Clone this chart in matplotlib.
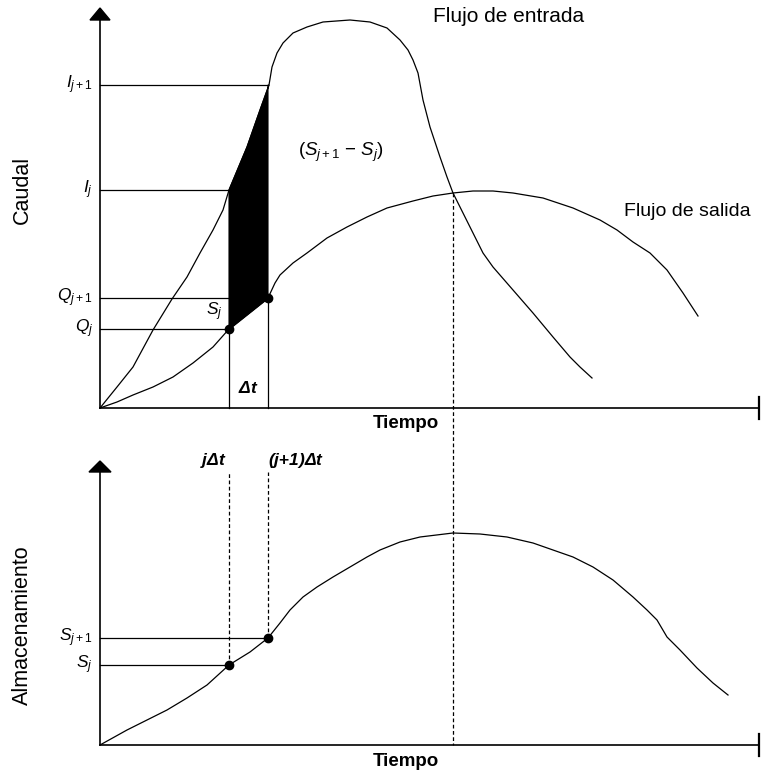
import matplotlib
matplotlib.use("Agg")
import matplotlib.pyplot as plt

plt.rcParams['font.family'] = ['Liberation Sans', 'DejaVu Sans']
plt.rcParams['mathtext.fontset'] = 'custom'
plt.rcParams['mathtext.rm'] = 'Liberation Sans'
plt.rcParams['mathtext.it'] = 'Liberation Sans:italic'
plt.rcParams['mathtext.bf'] = 'Liberation Sans:bold'
plt.rcParams['mathtext.bfit'] = 'Liberation Sans:bold:italic'

# ---- data (schematic units, y downward) ----
inflow_x = [100, 117, 133, 153, 172, 187, 200, 213, 223, 229, 247, 260, 269, 272, 277, 283, 293,
            307, 323, 350, 370, 387, 400, 408, 413, 418, 423, 430, 440, 447, 453, 463,
            473, 483, 493, 513, 533, 553, 570, 580, 592]
inflow_y = [408, 387, 367, 330, 299, 277, 253, 230, 210, 190, 147, 110, 85, 67, 53, 43, 33,
            27, 22, 20, 22, 28, 40, 50, 60, 73, 100, 127, 157, 177, 193, 213,
            233, 253, 267, 290, 313, 337, 357, 367, 378]

outflow_x = [100, 117, 133, 153, 173, 193, 213, 229, 268, 275, 280, 293, 307, 327, 347, 367, 387,
             413, 433, 453, 473, 493, 513, 543, 573, 600, 617, 633, 650, 667, 683, 698]
outflow_y = [408, 402, 395, 387, 377, 363, 347, 329, 298, 283, 275, 263, 253, 238, 227, 217, 208,
             201, 196, 193, 191, 191, 193, 198, 208, 220, 230, 242, 253, 270, 293, 316]

storage_x = [100, 127, 147, 167, 187, 207, 229, 250, 268, 280, 290, 303, 317, 333, 350, 367, 380,
             400, 420, 453, 480, 507, 533, 553, 573, 593, 613, 633, 647, 657, 667, 680, 697, 713, 728]
storage_y = [745, 730, 720, 710, 698, 685, 665, 652, 638, 623, 610, 597, 587, 577, 567, 557, 550,
             542, 537, 533, 534, 537, 543, 550, 557, 567, 580, 597, 610, 620, 637, 650, 668, 683, 695]

# time steps and levels
t_j, t_j1 = 229, 268
t_cross = 453
I_j, I_j1 = 190, 85
Q_j, Q_j1 = 329, 298
S_j, S_j1 = 665, 638

# axes frames
x0, x_end = 100, 759
top_origin, top_axis_top = 408, 20
bot_origin, bot_axis_top = 745, 472

fig = plt.figure(figsize=(7.61, 7.74), dpi=100)
ax = fig.add_axes([0, 0, 1, 1])
ax.set_xlim(0, 761)
ax.set_ylim(774, 0)
ax.axis('off')

lw = 0.9
k = 'black'
dash = (0, (3, 2))

# ---- top panel axes ----
ax.plot([x0, x0], [top_origin, top_axis_top], color=k, lw=1.2)
ax.plot([x0, x_end], [top_origin, top_origin], color=k, lw=1.2)
ax.plot([x_end, x_end], [top_origin - 11, top_origin + 11], color=k, lw=1.6)
ax.fill([x0 - 10, x0 + 10, x0], [top_axis_top, top_axis_top, top_axis_top - 12], color=k)

# ---- bottom panel axes ----
ax.plot([x0, x0], [bot_origin, bot_axis_top], color=k, lw=1.2)
ax.plot([x0, x_end], [bot_origin, bot_origin], color=k, lw=1.2)
ax.plot([x_end, x_end], [bot_origin - 11, bot_origin + 11], color=k, lw=1.6)
ax.fill([x0 - 11, x0 + 11, x0], [bot_axis_top, bot_axis_top, bot_axis_top - 11], color=k)

# ---- shaded storage change ----
in_seg = [(x, y) for x, y in zip(inflow_x, inflow_y) if t_j <= x <= t_j1 + 1]
out_seg = [(x, y) for x, y in zip(outflow_x, outflow_y) if t_j <= x <= t_j1][::-1]
poly = in_seg + [(t_j1, I_j1)] + out_seg
ax.fill([p[0] for p in poly], [p[1] for p in poly], color=k, lw=0.8, ec=k)

# ---- curves ----
ax.plot(inflow_x, inflow_y, color=k, lw=lw)
ax.plot(outflow_x, outflow_y, color=k, lw=lw)
ax.plot(storage_x, storage_y, color=k, lw=lw)

# ---- reference lines top ----
ax.plot([x0, t_j1], [I_j1, I_j1], color=k, lw=lw)
ax.plot([x0, t_j], [I_j, I_j], color=k, lw=lw)
ax.plot([x0, t_j], [Q_j1, Q_j1], color=k, lw=lw)
ax.plot([x0, t_j], [Q_j, Q_j], color=k, lw=lw)
ax.plot([t_j, t_j], [Q_j, top_origin], color=k, lw=lw)
ax.plot([t_j1, t_j1], [Q_j1, top_origin], color=k, lw=lw)
ax.plot([t_j, t_j1], [Q_j, Q_j1], color=k, lw=1.5)
ax.plot([t_j, t_j1], [Q_j, Q_j1], 'o', color=k, ms=6)

# dashed vertical through crossing to bottom axis
ax.plot([t_cross, t_cross], [193, bot_origin], color=k, lw=0.9, ls=dash)

# ---- reference lines bottom ----
ax.plot([x0, t_j1], [S_j1, S_j1], color=k, lw=lw)
ax.plot([x0, t_j], [S_j, S_j], color=k, lw=lw)
ax.plot([t_j, t_j], [S_j, bot_axis_top], color=k, lw=0.9, ls=dash)
ax.plot([t_j1, t_j1], [S_j1, bot_axis_top], color=k, lw=0.9, ls=dash)
ax.plot([t_j, t_j1], [S_j, S_j1], 'o', color=k, ms=6)

# ---- texts ----
fs_big = 15
fs_lab = 15.5
fs_tick = 12.5
ax.text(433, 17, 'Flujo de entrada', fontsize=fs_big, ha='left', va='center')
ax.text(624, 211, 'Flujo de salida', fontsize=14, ha='left', va='center')
ax.text(298, 152, r'$(S_{j+1}\ \mathrm{-}\ S_j)$', fontsize=13.5, ha='left', va='center')
ax.text(22, 190, 'Caudal', fontsize=fs_lab, rotation=90, ha='center', va='center')
ax.text(22, 625, 'Almacenamiento', fontsize=fs_lab, rotation=90, ha='center', va='center')
ax.text(406, 423, 'Tiempo', fontsize=13.5, fontweight='bold', ha='center', va='center')
ax.text(406, 761, 'Tiempo', fontsize=13.5, fontweight='bold', ha='center', va='center')

ax.text(93, I_j1, r'$I_{j+1}$', fontsize=fs_tick, ha='right', va='center')
ax.text(93, I_j, r'$I_j$', fontsize=fs_tick, ha='right', va='center')
ax.text(93, Q_j1, r'$Q_{j+1}$', fontsize=fs_tick, ha='right', va='center')
ax.text(93, Q_j, r'$Q_j$', fontsize=fs_tick, ha='right', va='center')
ax.text(223, 312, r'$S_j$', fontsize=fs_tick, ha='right', va='center')
ax.text(248, 388, r'$\mathbfit{\Delta t}$', fontsize=12.5, ha='center', va='center')

ax.text(93, S_j1, r'$S_{j+1}$', fontsize=fs_tick, ha='right', va='center')
ax.text(93, S_j, r'$S_j$', fontsize=fs_tick, ha='right', va='center')
ax.text(227, 460, r'$\mathbfit{j\Delta t}$', fontsize=12.5, ha='right', va='center')
ax.text(268, 460, r'$\mathbfit{(j}\mathbf{+}\mathbfit{1)\Delta t}$', fontsize=12.5,
        ha='left', va='center')

fig.savefig('out.png', dpi=100)
